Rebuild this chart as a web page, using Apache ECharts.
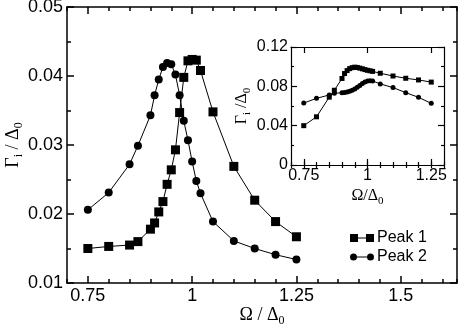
<!DOCTYPE html>
<html>
<head>
<meta charset="utf-8">
<script src="https://cdn.jsdelivr.net/npm/echarts@6/dist/echarts.min.js"></script>
<style>
  html, body { margin: 0; padding: 0; background: #fff; }
  #chart { width: 463px; height: 329px; }
</style>
</head>
<body>
<div id="chart"></div>
<script>
// Omega / Delta_0 grid shared by both panels
const omega = [0.75, 0.8, 0.85, 0.87, 0.9, 0.91, 0.92, 0.93, 0.94, 0.95, 0.96,
               0.97, 0.98, 0.99, 1.0, 1.01, 1.02, 1.05, 1.1, 1.15, 1.2, 1.25];

// main panel, Gamma_i / Delta_0
const peak1 = [0.0150, 0.0153, 0.0155, 0.0160, 0.0178, 0.0187, 0.0203, 0.0218, 0.0243, 0.0264, 0.0293,
               0.0347, 0.0398, 0.0422, 0.0424, 0.0423, 0.0408, 0.0348, 0.0269, 0.0220, 0.0189, 0.0167];
const peak2 = [0.0206, 0.0231, 0.0272, 0.0299, 0.0343, 0.0372, 0.0395, 0.0413, 0.0419, 0.0417, 0.0402,
               0.0372, 0.0335, 0.0307, 0.0276, 0.0248, 0.0230, 0.0189, 0.0161, 0.0150, 0.0141, 0.0134];

// inset panel
const insetPeak1 = [0.040, 0.049, 0.069, 0.076, 0.088, 0.093, 0.096, 0.098, 0.099, 0.0995, 0.0992,
                    0.0985, 0.0978, 0.097, 0.0963, 0.0958, 0.0952, 0.0933, 0.0905, 0.0882, 0.0865, 0.0843];
const insetPeak2 = [0.063, 0.0678, 0.0712, 0.0729, 0.0735, 0.0738, 0.0742, 0.075, 0.076, 0.0772, 0.079,
                    0.0808, 0.0828, 0.0845, 0.0855, 0.0858, 0.0855, 0.0825, 0.0787, 0.0736, 0.0688, 0.0627];

const mainXTicks = [0.75, 1, 1.25, 1.5];
const insetXTicks = [0.75, 1, 1.25];

const SANS = '"Liberation Sans", Arial, Helvetica, sans-serif';
const SERIF = '"Liberation Serif", "Times New Roman", serif';

const pairs = (ys) => omega.map((x, i) => [x, ys[i]]);

function richName(big, small) {
  return {
    fontFamily: SERIF, color: '#000',
    rich: {
      a: { fontFamily: SERIF, fontSize: big, lineHeight: big + 6, color: '#000' },
      s: { fontFamily: SERIF, fontSize: small, lineHeight: small, verticalAlign: 'bottom', color: '#000' }
    }
  };
}

// four x axes per grid: major/minor ticks, bottom and top
function xAxesFor(grid, min, max, majors, o) {
  const line = { color: '#000', width: o.lw };
  const base = { type: 'value', gridIndex: grid, min: min, max: max, splitLine: { show: false } };
  return [
    Object.assign({}, base, {
      position: 'bottom',
      axisLine: { show: true, onZero: false, lineStyle: line },
      axisTick: { show: true, inside: true, length: o.major, customValues: majors, lineStyle: line },
      axisLabel: { customValues: majors, fontFamily: SANS, fontSize: o.fs, color: '#000', margin: o.margin },
      name: o.name, nameLocation: 'middle', nameGap: o.nameGap, nameMoveOverlap: false,
      nameTextStyle: richName(o.nfs, o.nss)
    }),
    Object.assign({}, base, {
      position: 'bottom', interval: 0.05,
      axisLine: { show: false },
      axisTick: { show: true, inside: true, length: o.minor, lineStyle: line },
      axisLabel: { show: false }
    }),
    Object.assign({}, base, {
      position: 'top',
      axisLine: { show: true, onZero: false, lineStyle: line },
      axisTick: { show: true, inside: true, length: o.major, customValues: majors, lineStyle: line },
      axisLabel: { show: false }
    }),
    Object.assign({}, base, {
      position: 'top', interval: 0.05,
      axisLine: { show: false },
      axisTick: { show: true, inside: true, length: o.minor, lineStyle: line },
      axisLabel: { show: false }
    })
  ];
}

function yAxesFor(grid, min, max, interval, o) {
  const line = { color: '#000', width: o.lw };
  const common = {
    type: 'value', gridIndex: grid, min: min, max: max, interval: interval,
    splitLine: { show: false },
    axisLine: { show: true, onZero: false, lineStyle: line },
    axisTick: { show: true, inside: true, length: o.major, lineStyle: line },
    minorTick: { show: true, splitNumber: 2, length: o.minor, lineStyle: line }
  };
  return [
    Object.assign({}, common, {
      position: 'left',
      axisLabel: { fontFamily: SANS, fontSize: o.fs, color: '#000', margin: o.margin,
                   showMinLabel: true, showMaxLabel: true },
      name: o.name, nameLocation: 'middle', nameRotate: 90, nameGap: o.nameGap, nameMoveOverlap: false,
      nameTextStyle: richName(o.nfs, o.nss)
    }),
    Object.assign({}, common, { position: 'right', axisLabel: { show: false } })
  ];
}

const lineBlack = { color: '#000', width: 1 };

const chart = echarts.init(document.getElementById('chart'), null, { renderer: 'canvas' });
chart.setOption({
  backgroundColor: '#fff',
  animation: false,
  grid: [
    { left: 67, top: 7, right: 6, bottom: 46, outerBoundsMode: 'none', containLabel: false },
    { left: 291, top: 47, right: 19, bottom: 164, outerBoundsMode: 'none', containLabel: false,
      show: true, backgroundColor: '#fff', borderWidth: 0 }
  ],
  xAxis: [
    ...xAxesFor(0, 0.7, 1.635, mainXTicks, {
      lw: 1.5, major: 7, minor: 4, fs: 18, margin: 4,
      name: '{a|Ω / Δ}{s|0}', nameGap: 20, nfs: 18, nss: 12
    }),
    ...xAxesFor(1, 0.7, 1.3, insetXTicks, {
      lw: 1.2, major: 6, minor: 3, fs: 16, margin: 3,
      name: '{a|Ω/Δ}{s|0}', nameGap: 20, nfs: 16, nss: 11
    })
  ],
  yAxis: [
    ...yAxesFor(0, 0.01, 0.05, 0.01, {
      lw: 1.5, major: 7, minor: 4, fs: 18, margin: 4,
      name: '{a|Γ}{s|i}{a| / Δ}{s|0}', nameGap: 42, nfs: 18, nss: 12
    }),
    ...yAxesFor(1, 0, 0.12, 0.04, {
      lw: 1.2, major: 6, minor: 3, fs: 16, margin: 3,
      name: '{a|Γ}{s|i}{a| /Δ}{s|0}', nameGap: 38, nfs: 16, nss: 11
    })
  ],
  legend: {
    left: 345, top: 225, orient: 'vertical', itemGap: 3,
    itemWidth: 24, itemHeight: 8,
    textStyle: { fontFamily: SANS, fontSize: 16, color: '#000', padding: [0, 0, 0, -2] },
    data: [
      { name: 'Peak 1', icon: 'path://M0,0H8V8H0Z M8,3.5H16V4.5H8Z M16,0H24V8H16Z' },
      { name: 'Peak 2', icon: 'path://M0,4A3.5,3.5 0 1 0 7,4A3.5,3.5 0 1 0 0,4Z M7,3.5H17V4.5H7Z M17,4A3.5,3.5 0 1 0 24,4A3.5,3.5 0 1 0 17,4Z' }
    ]
  },
  series: [
    { name: 'Peak 1', type: 'line', xAxisIndex: 0, yAxisIndex: 0, data: pairs(peak1),
      symbol: 'rect', symbolSize: 9, lineStyle: lineBlack, itemStyle: { color: '#000' } },
    { name: 'Peak 2', type: 'line', xAxisIndex: 0, yAxisIndex: 0, data: pairs(peak2),
      symbol: 'circle', symbolSize: 8, lineStyle: lineBlack, itemStyle: { color: '#000' } },
    { name: 'inset 1', type: 'line', xAxisIndex: 4, yAxisIndex: 2, data: pairs(insetPeak1),
      symbol: 'rect', symbolSize: 5, lineStyle: lineBlack, itemStyle: { color: '#000' }, z: 5 },
    { name: 'inset 2', type: 'line', xAxisIndex: 4, yAxisIndex: 2, data: pairs(insetPeak2),
      symbol: 'circle', symbolSize: 5, lineStyle: lineBlack, itemStyle: { color: '#000' }, z: 5 }
  ]
});
</script>
</body>
</html>
